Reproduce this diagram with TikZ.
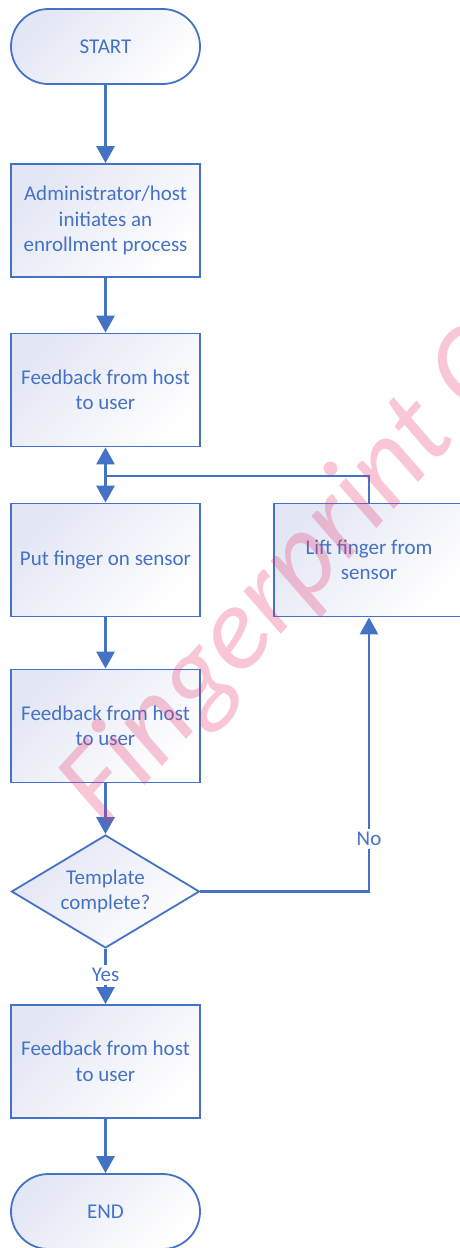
\documentclass[tikz,border=0pt]{standalone}
\usepackage{fontspec}
\setmainfont{Carlito}
\usetikzlibrary{arrows.meta,shapes.geometric}
\definecolor{fcblue}{HTML}{4472C4}
\definecolor{fclav}{HTML}{E3E6F4}
\definecolor{wmpink}{HTML}{E8326A}
\begin{document}
\begin{tikzpicture}[x=1pt,y=1pt,
  base/.style={draw=fcblue, line width=1.8pt, text=fcblue,
    font=\fontsize{21}{25.5}\selectfont, align=center, inner sep=0pt,
    top color=fclav, bottom color=white, shading angle=45},
  procbox/.style={base, rectangle, minimum width=189pt, minimum height=113pt},
  termbox/.style={base, rectangle, rounded corners=37.5pt, minimum width=189pt, minimum height=75pt},
  decbox/.style={base, diamond, aspect=1.66, minimum width=188pt, minimum height=113pt},
  line/.style={draw=fcblue, line width=2.8pt},
  conn/.style={line, -{Triangle[width=18pt,length=17pt]}},
  lbl/.style={fill=white, text=fcblue, font=\fontsize{21}{25.5}\selectfont, inner sep=3pt}]
\useasboundingbox (0,0) rectangle (460,-1248);
\node[termbox] (start) at (105.5,-46.5) {START};
\node[procbox] (admin) at (105.5,-220.5) {Administrator/host\\initiates an\\enrollment process};
\node[procbox] (fb1) at (105.5,-390) {Feedback from host\\to user};
\node[procbox] (put) at (105.5,-560) {Put finger on sensor};
\node[procbox, minimum width=190pt] (lift) at (369,-560) {Lift finger from\\sensor};
\node[procbox] (fb2) at (105.5,-726) {Feedback from host\\to user};
\node[decbox] (dec) at (105.5,-891.5) {Template\\complete?};
\node[procbox] (fb3) at (105.5,-1061.5) {Feedback from host\\to user};
\node[termbox] (end) at (105.5,-1211.5) {END};
\coordinate (j) at (105.5,-476);
\draw[conn] (start) -- (admin);
\draw[conn] (admin) -- (fb1);
\draw[conn] (j) -- (fb1.south);
\draw[conn] (j) -- (put.north);
\draw[line] (lift.north) |- (j);
\draw[conn] (put) -- (fb2);
\draw[conn] (fb2) -- (dec.north);
\draw[conn] (dec.east) -| (lift.south);
\node[lbl] (no) at (369,-839) {No};
\draw[conn] (dec.south) -- (fb3.north);
\node[lbl] (yes) at (105.5,-975) {Yes};
\draw[conn] (fb3) -- (end);
\node[rotate=48, anchor=base west, text=wmpink, text opacity=0.28,
  font=\fontsize{118}{118}\selectfont\itshape, inner sep=0pt] (wm) at (105,-830) {Fingerprint C};
\end{tikzpicture}
\end{document}
